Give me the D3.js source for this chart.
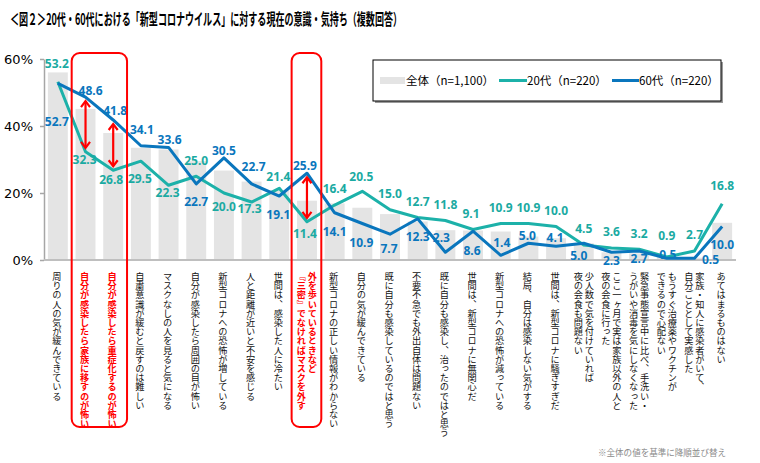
<!DOCTYPE html>
<html><head><meta charset="utf-8">
<script src="https://cdn.jsdelivr.net/npm/d3@7"></script>
<style>
html,body{margin:0;padding:0;background:#fff;}
svg{display:block;}
</style></head>
<body>
<svg id="chart" width="760" height="463"></svg>
<script>
const titleText = "＜図２＞20代・60代における「新型コロナウイルス」に対する現在の意識・気持ち（複数回答）";
const categories = [
 "周りの人の気が緩んできている",
 "自分が感染したら家族に移すのが怖い",
 "自分が感染したら重症化するのが怖い",
 "自粛意識が緩むと戻すのは難しい",
 "マスクなしの人を見ると気になる",
 "自分が感染したら周囲の目が怖い",
 "新型コロナへの恐怖が増している",
 "人と距離が近いと不安を感じる",
 "世間は、感染した人に冷たい",
 "外を歩いているときなど\n『三密』でなければマスクを外す",
 "新型コロナの正しい情報がわからない",
 "自分の気が緩んできている",
 "既に自分も感染しているのではと思う",
 "不要不急でも外出自体は問題ない",
 "既に自分も感染し、治ったのではと思う",
 "世間は、新型コロナに無関心だ",
 "新型コロナへの恐怖が減っている",
 "結局、自分は感染しない気がする",
 "世間は、新型コロナに騒ぎすぎだ",
 "少人数で気を付けていれば\n夜の会食も問題ない",
 "ここ一ヶ月で実は家族以外の人と\n夜の会食に行った",
 "緊急事態宣言中に比べ、手洗い・\nうがいや消毒を気にしなくなった",
 "もうすぐ治療薬やワクチンが\nできるので心配ない",
 "家族・知人に感染者がいて、\n自分ごととして実感した",
 "あてはまるものはない"
];
const totalValues = [56.0,45.1,37.9,33.5,33.0,29.5,26.7,23.4,20.8,17.7,16.9,15.6,13.7,11.5,8.9,8.8,8.5,7.0,6.5,5.0,2.3,2.0,0.9,0.7,11.1];
const age20Values = [53.2,32.3,26.8,29.5,22.3,25.0,20.0,17.3,21.4,11.4,16.4,20.5,15.0,12.7,11.8,9.1,10.9,10.9,10.0,4.5,3.6,3.2,0.9,2.7,16.8];
const age60Values = [52.7,48.6,41.8,34.1,33.6,22.7,30.5,22.7,19.1,25.9,14.1,10.9,7.7,12.3,2.3,8.6,1.4,5.0,4.1,5.0,2.3,2.7,0.5,0.5,10.0];
const yTicks = [0,20,40,60];
const seriesNames = ["全体（n=1,100）","20代（n=220）","60代（n=220）"];
const highlighted = [1,2,9];
const footnote = "※全体の値を基準に降順並び替え";

// label placement (px offsets of label centre from the point)
const age20LabelDy = [-18,8,9,18,7,-16,14,7,-12,12,-16,-15,-16,-16,-16,-16,-16,-16,-16,-16,-16,-16,-21,-16,-18];
const age20LabelDx = [-1,-1,-2,-1,-1,0,0,-2,-1,-2,0,-1,0,0,0,-2,0,0,0,0,0,0,0,0,0];
const age60LabelDy = [38,-6,-9,-16,-8,18,-7,-17,19,-8,19,19,14,18,-15,20,-13,-8,-9,12,8,8,-4,1,18];
const age60LabelDx = [-1,5,2,1,1,0,0,2,-1,-2,0,-1,-1,0,-4,-1,1,-1,-1,-5,0,0,1,16,0];

const TEAL = "#1cb1a9", BLUE = "#0a76bd", GRAY = "#e4e4e4", RED = "#ff0000";
const svg = d3.select("#chart");

// title
svg.append("text").attr("x",10).attr("y",25)
  .attr("font-family","'Noto Sans CJK JP'").attr("font-weight","bold").attr("font-size",16)
  .attr("textLength",392).attr("lengthAdjust","spacingAndGlyphs").attr("fill","#000")
  .text(titleText);

const x = d3.scaleBand().domain(d3.range(categories.length)).range([44,736]).paddingInner(0.28).paddingOuter(0.14);
const y = d3.scaleLinear().domain([0,60]).range([260,59]);
const cx = i => x(i) + x.bandwidth()/2;

// bars
svg.append("g").selectAll("rect").data(totalValues).join("rect")
  .attr("x",(d,i)=>x(i)).attr("width",x.bandwidth())
  .attr("y",d=>y(d)).attr("height",d=>y(0)-y(d)).attr("fill",GRAY);

// y axis
const ya = svg.append("g").attr("transform","translate(44,0)")
  .call(d3.axisLeft(y).tickValues(yTicks).tickFormat(d=>d+"%").tickSize(4).tickSizeOuter(0).tickPadding(7));
ya.select(".domain").attr("stroke","#a6a6a6").attr("stroke-width",1.5);
ya.selectAll(".tick line").attr("stroke","#a6a6a6").attr("stroke-width",1.5);
ya.selectAll(".tick text").attr("font-family","'DejaVu Sans'").attr("font-size",13).attr("fill","#000").attr("dy","0.36em");

// baseline
svg.append("line").attr("x1",44).attr("x2",736).attr("y1",y(0)).attr("y2",y(0))
  .attr("stroke","#bfbfbf").attr("stroke-width",2);

// lines
const line = d3.line().x((d,i)=>cx(i)).y(d=>y(d));
svg.append("path").datum(age20Values).attr("d",line).attr("fill","none").attr("stroke",TEAL).attr("stroke-width",3).attr("stroke-linejoin","round");
svg.append("path").datum(age60Values).attr("d",line).attr("fill","none").attr("stroke",BLUE).attr("stroke-width",3).attr("stroke-linejoin","round");

// data labels
function labels(vals, dx, dy, color){
  svg.append("g").selectAll("text").data(vals).join("text")
    .attr("x",(d,i)=>cx(i)+dx[i]).attr("y",(d,i)=>y(d)+dy[i]+4.3)
    .attr("text-anchor","middle").attr("font-family","'Noto Sans'").attr("font-weight","bold")
    .attr("font-size",12).attr("fill",color).text(d=>d.toFixed(1));
}
labels(age20Values, age20LabelDx, age20LabelDy, "#1aaaa2");
labels(age60Values, age60LabelDx, age60LabelDy, BLUE);

// arrows between series at highlighted categories
highlighted.forEach(i=>{
  const a = Math.min(y(age20Values[i]),y(age60Values[i]))+4;
  const b = Math.max(y(age20Values[i]),y(age60Values[i]))-4;
  const xx = cx(i);
  const g = svg.append("g").attr("stroke",RED).attr("stroke-width",2.2).attr("fill","none");
  g.append("line").attr("x1",xx).attr("x2",xx).attr("y1",a).attr("y2",b);
  g.append("path").attr("d",`M${xx-4.5},${a+6}L${xx},${a}L${xx+4.5},${a+6}`);
  g.append("path").attr("d",`M${xx-4.5},${b-6}L${xx},${b}L${xx+4.5},${b-6}`);
});

// highlight boxes
const groups = [[1,2],[9,9]];
groups.forEach(([s,e])=>{
  const x0 = x(s) - x.step()*x.paddingInner()/2 - (s===e?1.5:0);
  const x1 = x(e) + x.bandwidth() + x.step()*x.paddingInner()/2 + (s===e?0.5:0);
  svg.append("rect").attr("x",x0).attr("y",y(60)-6).attr("width",x1-x0).attr("height",427-(y(60)-6))
    .attr("rx",8).attr("fill","none").attr("stroke",RED).attr("stroke-width",2);
});

// x labels (vertical)
categories.forEach((c,i)=>{
  const lines = c.split("\n");
  const hl = highlighted.includes(i);
  lines.forEach((t,k)=>{
    const off = lines.length===1 ? -1 : (k===0 ? 5.5 : -5.5);
    svg.append("text").attr("x",cx(i)+off).attr("y",272)
      .style("writing-mode","vertical-rl")
      .attr("font-family","'Noto Sans CJK JP'").attr("font-size",9.2)
      .attr("font-weight",hl?"bold":"normal").attr("fill",hl?RED:"#111")
      .text(t);
  });
});

// legend
svg.append("rect").attr("x",375).attr("y",62).attr("width",348).attr("height",41).attr("fill","#9a9a9a");
svg.append("rect").attr("x",373).attr("y",60).attr("width",348).attr("height",41).attr("fill","#fff").attr("stroke","#000").attr("stroke-width",1);
const lg = svg.append("g").attr("font-family","'Noto Sans CJK JP'").attr("font-size",11.5).attr("fill","#000");
lg.append("rect").attr("x",380).attr("y",77).attr("width",25).attr("height",7).attr("fill",GRAY);
lg.append("text").attr("x",406).attr("y",84.5).text(seriesNames[0]);
lg.append("line").attr("x1",499).attr("x2",527).attr("y1",80.5).attr("y2",80.5).attr("stroke",TEAL).attr("stroke-width",3);
lg.append("text").attr("x",527).attr("y",84.5).text(seriesNames[1]);
lg.append("line").attr("x1",612).attr("x2",639).attr("y1",80.5).attr("y2",80.5).attr("stroke",BLUE).attr("stroke-width",3);
lg.append("text").attr("x",639).attr("y",84.5).text(seriesNames[2]);

// footnote
svg.append("text").attr("x",598).attr("y",456).attr("font-family","'Noto Sans CJK JP'").attr("font-size",9)
  .attr("fill","#8a8a8a").attr("textLength",128).attr("lengthAdjust","spacingAndGlyphs").text(footnote);
</script>
</body></html>
